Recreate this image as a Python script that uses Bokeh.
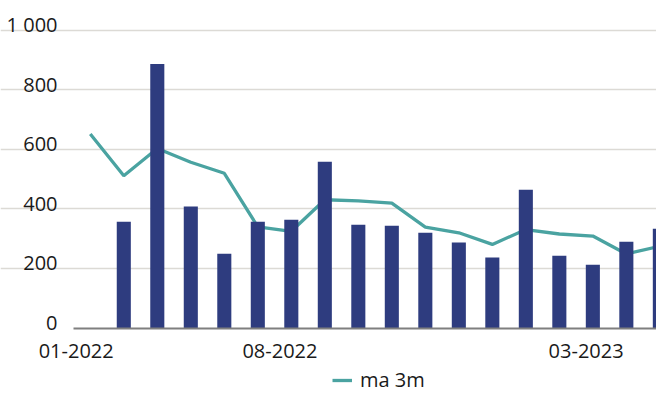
from bokeh.plotting import figure
from bokeh.models import Range1d, FixedTicker, Legend, LegendItem
from bokeh.embed import file_html
from bokeh.resources import INLINE

months = ["01-2022", "02-2022", "03-2022", "04-2022", "05-2022", "06-2022",
          "07-2022", "08-2022", "09-2022", "10-2022", "11-2022", "12-2022",
          "01-2023", "02-2023", "03-2023", "04-2023", "05-2023", "06-2023"]
# monthly values (no bar for the first month)
bar_values = [None, 357, 887, 408, 250, 357, 364, 559, 347, 344, 320, 287,
              237, 465, 243, 213, 290, 334]
ma3m = [652, 512, 603, 557, 520, 340, 325, 431, 427, 420, 339, 320,
        281, 331, 316, 309, 249, 275]
tick_labels = ["01-2022", "08-2022", "03-2023"]
tick_positions = [-0.42, 5.66, 14.8]
y_ticks = [0, 200, 400, 600, 800, 1000]
y_tick_labels = ["0", "200", "400", "600", "800", "1 000"]

FONT = "Open Sans"
TXT = "#1a1a1a"
BAR = "#2E3C7F"
LINE = "#4AA3A1"

idx = list(range(len(months)))
bx = [i for i, v in zip(idx, bar_values) if v is not None]
bv = [v for v in bar_values if v is not None]

# the frame covers the whole figure; axes are fixed inside it
p = figure(width=656, height=393, output_backend="svg", toolbar_location=None,
           x_range=Range1d(-2.68, 16.9), y_range=Range1d(-220, 1067),
           min_border_left=0, min_border_right=0, min_border_top=10,
           min_border_bottom=0)
p.outline_line_color = None
p.background_fill_color = "white"
p.border_fill_color = "white"

line_r = p.line(idx, ma3m, line_color=LINE, line_width=3.3)
p.vbar(x=bx, top=bv, width=0.42, fill_color=BAR, line_color=None)

p.xgrid.grid_line_color = None
p.ygrid.grid_line_color = "#dcdad5"
p.ygrid.grid_line_width = 1.5
p.ygrid.ticker = FixedTicker(ticks=y_ticks[1:])
p.ygrid.bounds = (-0.5, 17.5)

# labels sit just above their grid lines
label_lift = 20
y_label_pos = [v + label_lift for v in y_ticks]
p.yaxis.fixed_location = -0.5
p.yaxis.ticker = FixedTicker(ticks=y_label_pos)
p.yaxis.major_label_overrides = {pos: lab for pos, lab in zip(y_label_pos, y_tick_labels)}
p.yaxis.axis_line_color = None
p.yaxis.major_tick_line_color = None
p.yaxis.minor_tick_line_color = None
p.yaxis.major_label_standoff = 10
p.yaxis.major_label_text_font = FONT
p.yaxis.major_label_text_font_size = "20px"
p.yaxis.major_label_text_color = TXT

p.xaxis.fixed_location = 0
p.xaxis.bounds = (-0.5, 17.5)
p.xaxis.ticker = FixedTicker(ticks=tick_positions)
p.xaxis.major_label_overrides = {t: l for t, l in zip(tick_positions, tick_labels)}
p.xaxis.axis_line_color = "#7f7f7f"
p.xaxis.axis_line_width = 2
p.xaxis.major_tick_line_color = None
p.xaxis.minor_tick_line_color = None
p.xaxis.major_label_standoff = 10
p.xaxis.major_label_text_font = FONT
p.xaxis.major_label_text_font_size = "20px"
p.xaxis.major_label_text_color = TXT

legend = Legend(items=[LegendItem(label="ma 3m", renderers=[line_r])],
                location=(332, 0), orientation="horizontal",
                padding=0, margin=0, spacing=0, glyph_width=20, glyph_height=20,
                label_standoff=8, border_line_color=None,
                background_fill_alpha=0,
                label_text_font=FONT, label_text_font_size="20px",
                label_text_color=TXT)
p.add_layout(legend, "center")

open("out.html", "w").write(file_html(p, INLINE))
